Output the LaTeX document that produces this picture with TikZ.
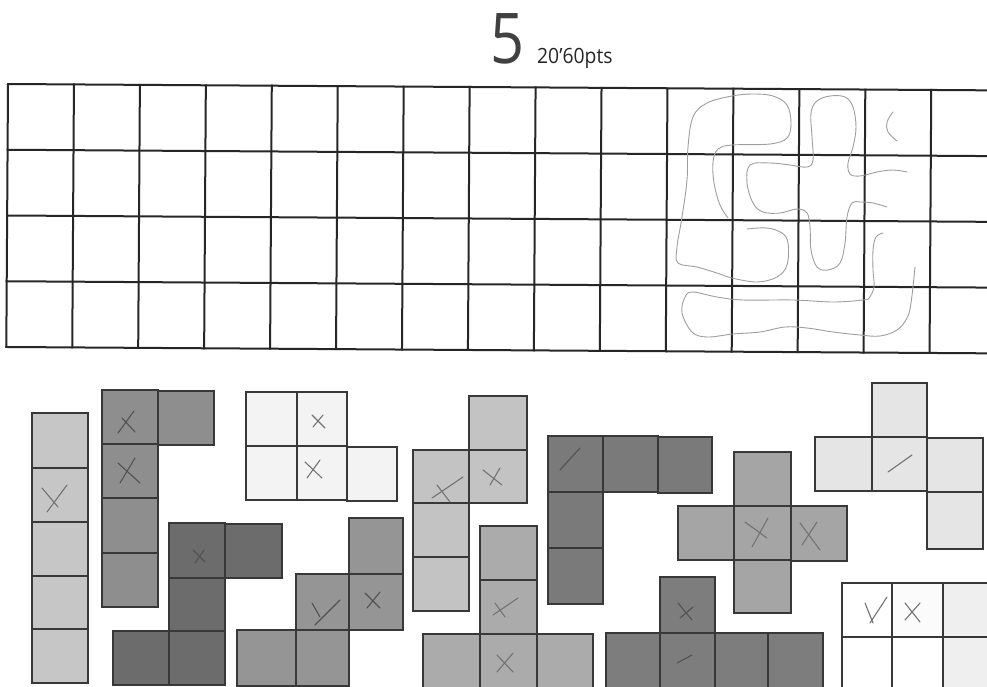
\documentclass[tikz,border=0pt]{standalone}
\usepackage{fontspec}
\setmainfont{Open Sans}
\definecolor{pA}{HTML}{C6C6C6}
\definecolor{pB}{HTML}{8E8E8E}
\definecolor{pC}{HTML}{F3F3F3}
\definecolor{pD}{HTML}{6C6C6C}
\definecolor{pE}{HTML}{959595}
\definecolor{pF}{HTML}{C3C3C3}
\definecolor{pG}{HTML}{ABABAB}
\definecolor{pH}{HTML}{7A7A7A}
\definecolor{pI}{HTML}{A5A5A5}
\definecolor{pJ}{HTML}{E5E5E5}
\definecolor{pK}{HTML}{7D7D7D}
\definecolor{pL}{HTML}{FBFBFB}
\definecolor{pM}{HTML}{EFEFEF}
\newcommand\pcell[5]{\filldraw[piece, fill=#1] (#2,#3) rectangle (#4,#5);}
\begin{document}
\begin{tikzpicture}[x=1pt,y=-1pt,
  gridline/.style={line width=2pt, draw=black!85, line cap=rect},
  piece/.style={line width=1.4pt, draw=black!78},
  pencil/.style={draw=black!38, line width=0.9pt, line cap=round, line join=round},
  xmk/.style={draw=black!55, line width=1.1pt, line cap=round},
  xmkd/.style={draw=black!68, line width=1.1pt, line cap=round}]
\useasboundingbox (0,0) rectangle (987,686);
\clip (0,0) rectangle (987,686);
\fill[white] (0,0) rectangle (987,686);

% title
\node[anchor=base west, inner sep=0pt, xscale=0.85, font=\fontsize{70}{70}\selectfont, text=black!75] (five) at (490,63) {5};
\node[anchor=base west, inner sep=0pt, xscale=0.92, font=\fontsize{21}{21}\selectfont, text=black!85] (pts) at (537,63) {20’60pts};

% grid
\begin{scope}[shift={(8,84)}, rotate=-0.37]
  \foreach \i in {0,...,15} \draw[gridline] (\i*65.95,0) -- (\i*65.95,263);
  \foreach \j in {0,...,4} \draw[gridline] (0,\j*65.75) -- (1000,\j*65.75);
\end{scope}

% pencil drawings in the grid
\draw[pencil] plot[smooth, tension=0.6] coordinates {(728,218) (720,205) (714,183) (713,162) (718,149) (732,145) (770,144) (787,138) (791,123) (787,105) (773,96) (753,94) (732,96) (707,103) (693,117) (688,147) (687,180) (682,217) (677,247) (678,263) (697,267) (717,273) (732,278) (757,282) (777,277) (787,265) (788,243) (782,233) (767,228) (747,229)};
\draw[pencil] plot[smooth, tension=0.6] coordinates {(907,172) (893,170) (877,172) (860,176) (850,174) (848,163) (853,147) (856,127) (853,107) (845,97) (830,96) (817,101) (811,113) (812,137) (813,160) (807,167) (790,165) (770,163) (750,165) (747,183) (753,203) (763,212) (780,213) (797,209) (807,213) (810,227) (811,250) (817,267) (828,270) (840,263) (845,243) (847,217) (852,203) (860,202) (873,203) (887,207)};
\draw[pencil] plot[smooth, tension=0.6] coordinates {(893,112) (887,122) (888,132) (897,141)};
\draw[pencil] plot[smooth, tension=0.6] coordinates {(883,233) (876,237) (873,250) (873,270) (874,287) (869,298) (863,300) (833,302) (793,300) (743,300) (717,297) (693,292) (685,297) (682,313) (692,332) (707,337) (733,334) (760,332) (785,327) (807,328) (833,332) (860,335) (880,336) (897,330) (907,318) (911,303) (915,267)};

% piece 1 (I)
\pcell{pA}{32}{413}{88}{468}
\pcell{pA}{32}{468}{88}{522}
\pcell{pA}{32}{522}{88}{576}
\pcell{pA}{32}{576}{88}{629}
\pcell{pA}{32}{629}{88}{683}
% piece 2 (L)
\pcell{pB}{102}{390}{158}{444}
\pcell{pB}{158}{391}{214}{445}
\pcell{pB}{102}{444}{158}{498}
\pcell{pB}{102}{498}{158}{553}
\pcell{pB}{102}{553}{158}{607}
% piece 3 (P)
\pcell{pC}{246}{392}{297}{446}
\pcell{pC}{297}{392}{347}{446}
\pcell{pC}{246}{446}{297}{500}
\pcell{pC}{297}{446}{347}{500}
\pcell{pC}{347}{447}{397}{501}
% piece 4 (Z)
\pcell{pD}{169}{523}{225}{578}
\pcell{pD}{225}{524}{282}{578}
\pcell{pD}{169}{578}{225}{631}
\pcell{pD}{113}{631}{169}{685}
\pcell{pD}{169}{631}{225}{685}
% piece 5 (W)
\pcell{pE}{349}{518}{403}{574}
\pcell{pE}{296}{574}{349}{630}
\pcell{pE}{349}{574}{403}{630}
\pcell{pE}{237}{630}{296}{686}
\pcell{pE}{296}{630}{349}{686}
% piece 6 (N)
\pcell{pF}{469}{396}{527}{450}
\pcell{pF}{413}{450}{469}{503}
\pcell{pF}{469}{450}{527}{503}
\pcell{pF}{413}{503}{469}{557}
\pcell{pF}{413}{557}{469}{611}
% piece 7 (T)
\pcell{pG}{480}{526}{537}{580}
\pcell{pG}{480}{580}{537}{634}
\pcell{pG}{423}{634}{480}{692}
\pcell{pG}{480}{634}{537}{692}
\pcell{pG}{537}{634}{593}{692}
% piece 8 (V)
\pcell{pH}{548}{436}{603}{492}
\pcell{pH}{603}{436}{658}{492}
\pcell{pH}{658}{437}{712}{493}
\pcell{pH}{548}{492}{603}{548}
\pcell{pH}{548}{548}{603}{604}
% piece 9 (X)
\pcell{pI}{734}{452}{791}{506}
\pcell{pI}{678}{506}{734}{560}
\pcell{pI}{734}{506}{791}{560}
\pcell{pI}{791}{506}{847}{561}
\pcell{pI}{734}{560}{791}{613}
% piece 10 (F)
\pcell{pJ}{872}{383}{927}{437}
\pcell{pJ}{815}{437}{872}{491}
\pcell{pJ}{872}{437}{927}{491}
\pcell{pJ}{927}{438}{983}{492}
\pcell{pJ}{927}{492}{983}{549}
% piece 11 (Y)
\pcell{pK}{660}{577}{715}{633}
\pcell{pK}{606}{633}{660}{692}
\pcell{pK}{660}{633}{715}{692}
\pcell{pK}{715}{633}{768}{692}
\pcell{pK}{768}{633}{823}{692}
% piece 12 (bottom right)
\pcell{white}{842}{583}{892}{637}
\pcell{pL}{892}{583}{943}{637}
\pcell{pM}{943}{583}{995}{637}
\pcell{white}{842}{637}{892}{692}
\pcell{white}{892}{637}{943}{692}
\pcell{pM}{943}{637}{995}{692}

% pencil marks on the pieces
\draw[xmk] (42,488) -- (58,507);
\draw[xmk] (67,485) -- (47,512);
\draw[xmkd] (118,433) -- (134,411);
\draw[xmkd] (122,418) -- (135,432);
\draw[xmkd] (118,463) -- (140,483);
\draw[xmkd] (135,458) -- (120,483);
\draw[xmk] (312,415) -- (325,428);
\draw[xmk] (323,415) -- (313,427);
\draw[xmk] (305,462) -- (322,478);
\draw[xmk] (320,460) -- (307,478);
\draw[xmkd] (193,550) -- (205,562);
\draw[xmkd] (204,550) -- (195,563);
\draw[xmkd] (315,625) -- (340,600);
\draw[xmkd] (312,603) -- (320,617);
\draw[xmkd] (365,593) -- (380,608);
\draw[xmkd] (380,592) -- (367,608);
\draw[xmk] (432,498) -- (463,477);
\draw[xmk] (437,485) -- (450,502);
\draw[xmk] (483,470) -- (502,485);
\draw[xmk] (500,468) -- (490,485);
\draw[xmk] (493,615) -- (518,598);
\draw[xmk] (495,603) -- (505,617);
\draw[xmk] (497,655) -- (513,672);
\draw[xmk] (513,653) -- (497,672);
\draw[xmkd] (560,470) -- (580,448);
\draw[xmk] (745,522) -- (767,538);
\draw[xmk] (768,518) -- (752,547);
\draw[xmk] (800,523) -- (820,550);
\draw[xmk] (817,522) -- (802,545);
\draw[xmk] (888,472) -- (912,455);
\draw[xmkd] (678,603) -- (692,620);
\draw[xmkd] (693,607) -- (680,618);
\draw[xmkd] (677,663) -- (692,655);
\draw[xmk] (865,603) -- (873,623);
\draw[xmk] (887,597) -- (870,623);
\draw[xmk] (905,603) -- (920,622);
\draw[xmk] (920,603) -- (905,620);
\end{tikzpicture}
\end{document}
